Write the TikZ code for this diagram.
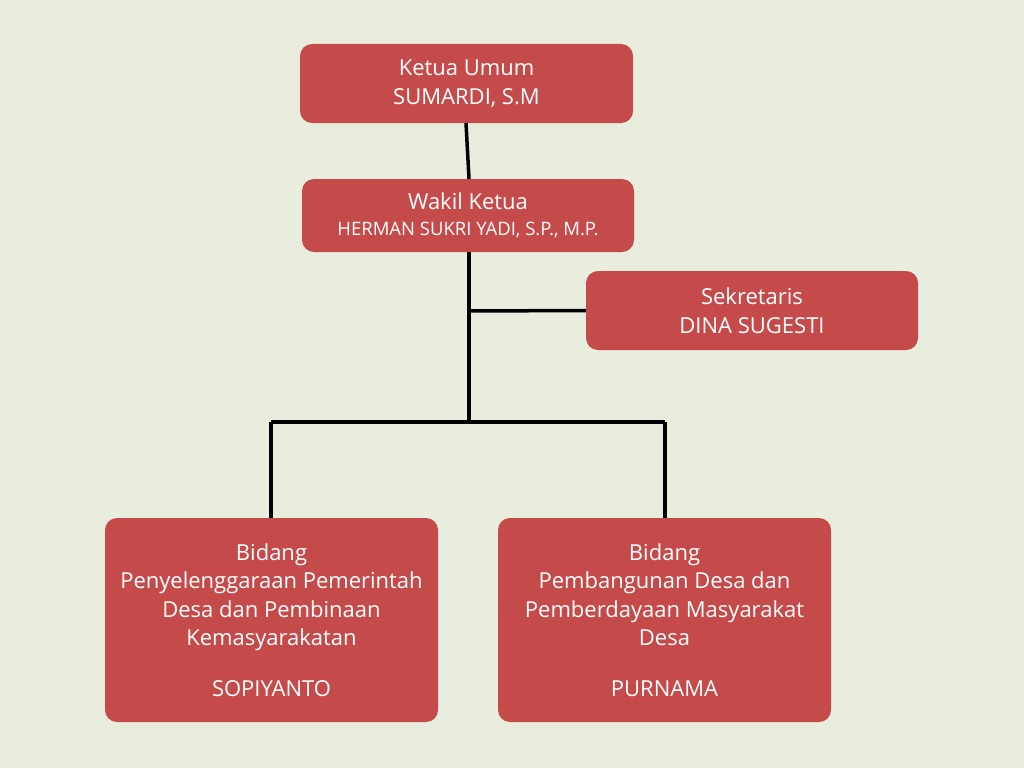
\documentclass[tikz,border=0pt]{standalone}
\usepackage{fontspec}
\setmainfont{Open Sans}
\definecolor{bg}{HTML}{E8EDDD}
\definecolor{boxred}{HTML}{C54B4B}
\begin{document}
\begin{tikzpicture}[x=1pt,y=-1pt,
  box/.style={fill=boxred,rounded corners=12pt,text=white,align=center,inner sep=0pt,font=\fontsize{22}{28.5}\selectfont},
  conn/.style={line width=3.5pt,black}]
\fill[bg] (0,0) rectangle (1024,768);
\useasboundingbox (0,0) rectangle (1024,768);
\node[box,minimum width=333pt,minimum height=79pt] (ketua) at (466.5,83.5) {Ketua Umum\\SUMARDI, S.M};
\node[box,minimum width=332pt,minimum height=73pt] (wakil) at (468,215.5) {Wakil Ketua\\[-3pt]{\fontsize{18.5}{18}\selectfont HERMAN SUKRI YADI, S.P., M.P.}};
\node[box,minimum width=332pt,minimum height=79pt] (sekr) at (752,310.5) {Sekretaris\\DINA SUGESTI};
\node[box,minimum width=333pt,minimum height=204pt] (bid1) at (271.5,620) {Bidang\\Penyelenggaraan Pemerintah\\Desa dan Pembinaan\\Kemasyarakatan\\[22pt]SOPIYANTO};
\node[box,minimum width=333pt,minimum height=204pt] (bid2) at (664.5,620) {Bidang\\Pembangunan Desa dan\\Pemberdayaan Masyarakat\\Desa\\[22pt]PURNAMA};
\coordinate (j1) at (469,311);
\coordinate (j2) at (469,422);
\coordinate (l) at (271,422);
\coordinate (r) at (665,422);
\draw[conn] (466,123) -- (469,179);
\draw[conn] (469,252) -- (j2);
\draw[conn] (j1) -- (sekr.west);
\draw[conn] (l) -- (r);
\draw[conn] (l) -- (271,518);
\draw[conn] (r) -- (665,518);
\end{tikzpicture}
\end{document}
